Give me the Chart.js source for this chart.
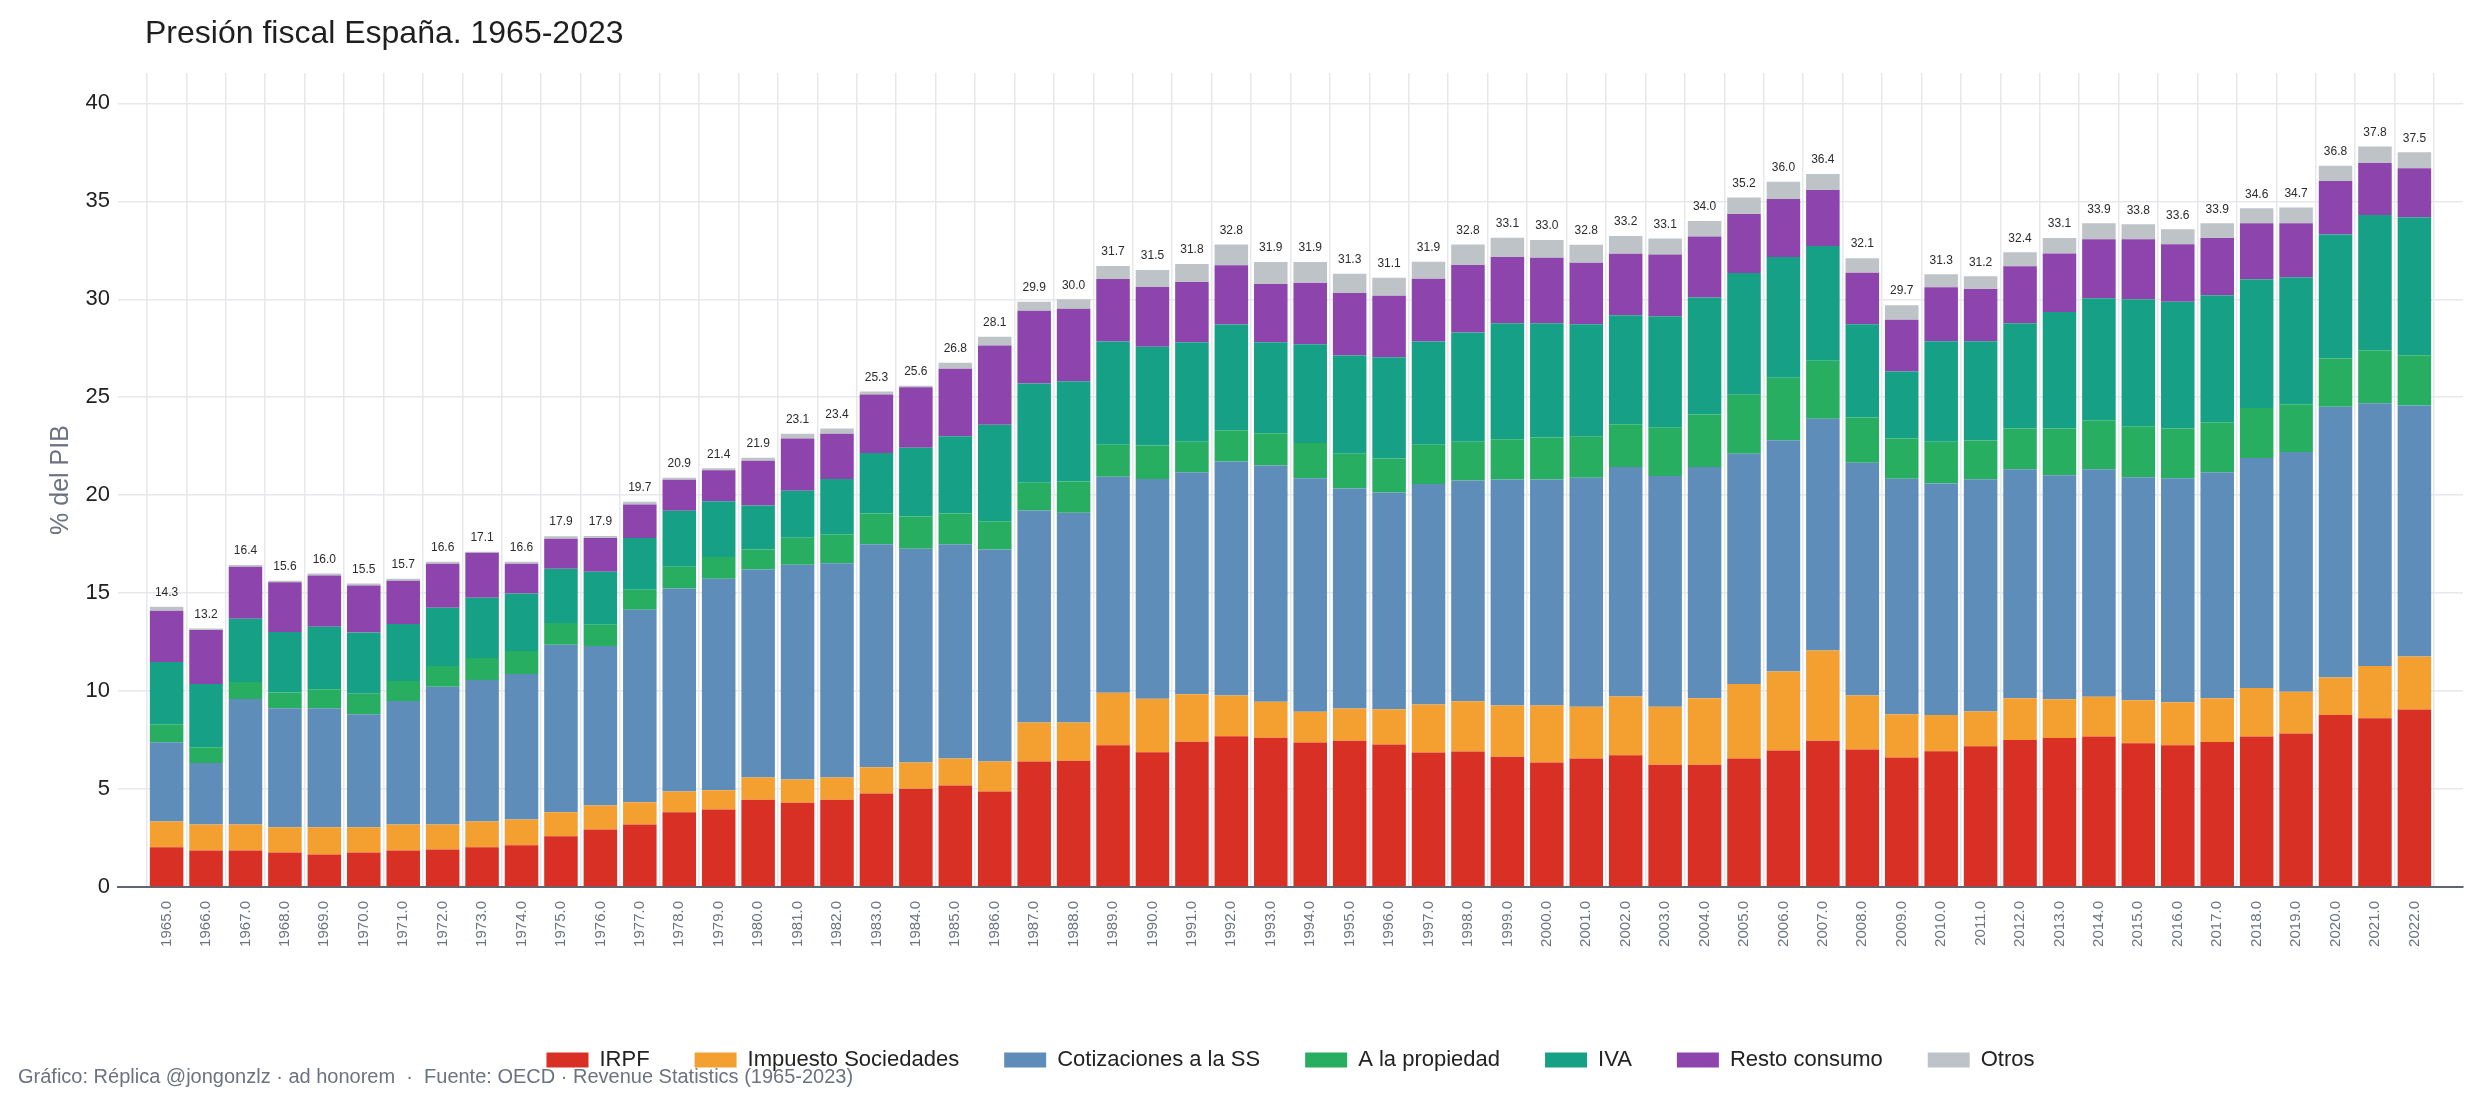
<!DOCTYPE html>
<html lang="es">
<head>
<meta charset="utf-8">
<title>Presión fiscal España</title>
<script src="https://cdn.jsdelivr.net/npm/chart.js@4.4.1/dist/chart.umd.min.js"></script>
<style>
  body { margin: 0; background: #ffffff; }
  canvas { display: block; }
</style>
</head>
<body>
<canvas id="grafico" width="2480" height="1105"></canvas>
<script>
const anios = [
  1965, 1966, 1967, 1968, 1969, 1970, 1971, 1972, 1973, 1974,
  1975, 1976, 1977, 1978, 1979, 1980, 1981, 1982, 1983, 1984,
  1985, 1986, 1987, 1988, 1989, 1990, 1991, 1992, 1993, 1994,
  1995, 1996, 1997, 1998, 1999, 2000, 2001, 2002, 2003, 2004,
  2005, 2006, 2007, 2008, 2009, 2010, 2011, 2012, 2013, 2014,
  2015, 2016, 2017, 2018, 2019, 2020, 2021, 2022
];

// % del PIB
const irpf = [
  2.03, 1.86, 1.86, 1.76, 1.66, 1.76, 1.86, 1.91, 2.03, 2.13,
  2.59, 2.94, 3.19, 3.81, 3.95, 4.45, 4.30, 4.45, 4.77, 5.02,
  5.18, 4.88, 6.41, 6.45, 7.23, 6.88, 7.42, 7.70, 7.62, 7.38,
  7.47, 7.27, 6.86, 6.92, 6.65, 6.36, 6.56, 6.72, 6.24, 6.24,
  6.56, 6.97, 7.47, 7.02, 6.61, 6.93, 7.19, 7.50, 7.60, 7.68,
  7.34, 7.24, 7.40, 7.68, 7.84, 8.78, 8.62, 9.06
];
const sociedades = [
  1.31, 1.33, 1.33, 1.29, 1.39, 1.29, 1.33, 1.28, 1.31, 1.32,
  1.22, 1.22, 1.13, 1.07, 0.99, 1.14, 1.19, 1.14, 1.34, 1.33,
  1.38, 1.53, 1.99, 1.95, 2.69, 2.73, 2.42, 2.07, 1.83, 1.57,
  1.64, 1.80, 2.46, 2.56, 2.62, 2.91, 2.64, 3.01, 2.96, 3.40,
  3.80, 4.03, 4.60, 2.75, 2.21, 1.85, 1.77, 2.14, 1.98, 2.03,
  2.19, 2.19, 2.24, 2.48, 2.13, 1.92, 2.66, 2.71
];
const cotizaciones = [
  4.05, 3.14, 6.40, 6.08, 6.08, 5.77, 6.31, 7.03, 7.22, 7.42,
  8.56, 8.14, 9.83, 10.36, 10.80, 10.62, 10.96, 10.93, 11.39, 10.92,
  10.94, 10.82, 10.82, 10.70, 11.02, 11.21, 11.33, 11.95, 12.07, 11.91,
  11.23, 11.07, 11.25, 11.27, 11.53, 11.53, 11.69, 11.71, 11.78, 11.80,
  11.76, 11.80, 11.83, 11.89, 12.02, 11.82, 11.85, 11.69, 11.44, 11.62,
  11.38, 11.43, 11.53, 11.74, 12.24, 13.81, 13.41, 12.81
];
const propiedad = [
  0.92, 0.80, 0.87, 0.80, 0.97, 1.04, 1.01, 1.06, 1.13, 1.18,
  1.11, 1.08, 1.02, 1.11, 1.10, 1.02, 1.38, 1.49, 1.56, 1.64,
  1.56, 1.44, 1.42, 1.60, 1.64, 1.72, 1.56, 1.60, 1.64, 1.80,
  1.78, 1.73, 2.00, 1.98, 2.05, 2.14, 2.09, 2.18, 2.46, 2.68,
  3.01, 3.19, 2.96, 2.30, 2.05, 2.13, 1.98, 2.08, 2.39, 2.50,
  2.61, 2.55, 2.55, 2.55, 2.43, 2.47, 2.71, 2.56
];
const iva = [
  3.17, 3.23, 3.23, 3.09, 3.19, 3.13, 2.92, 2.97, 3.07, 2.93,
  2.77, 2.71, 2.65, 2.86, 2.85, 2.24, 2.40, 2.81, 3.09, 3.51,
  3.95, 4.92, 5.06, 5.12, 5.27, 5.04, 5.08, 5.39, 4.65, 5.04,
  5.01, 5.17, 5.27, 5.58, 5.92, 5.83, 5.74, 5.56, 5.69, 5.97,
  6.21, 6.17, 5.86, 4.76, 3.42, 5.13, 5.07, 5.37, 5.94, 6.22,
  6.48, 6.46, 6.49, 6.57, 6.48, 6.33, 6.90, 7.05
];
const restoConsumo = [
  2.62, 2.76, 2.66, 2.53, 2.61, 2.40, 2.20, 2.25, 2.30, 1.52,
  1.53, 1.73, 1.70, 1.58, 1.58, 2.29, 2.66, 2.32, 2.99, 3.09,
  3.45, 4.05, 3.71, 3.69, 3.19, 3.05, 3.07, 3.03, 2.97, 3.13,
  3.19, 3.14, 3.21, 3.44, 3.39, 3.35, 3.15, 3.14, 3.15, 3.11,
  3.01, 2.96, 2.86, 2.63, 2.64, 2.75, 2.66, 2.91, 2.99, 3.02,
  3.07, 2.94, 2.92, 2.86, 2.76, 2.73, 2.65, 2.50
];
const otros = [
  0.20, 0.08, 0.08, 0.08, 0.10, 0.10, 0.10, 0.10, 0.05, 0.10,
  0.13, 0.10, 0.15, 0.10, 0.10, 0.15, 0.25, 0.26, 0.15, 0.08,
  0.30, 0.45, 0.47, 0.49, 0.66, 0.87, 0.92, 1.06, 1.12, 1.07,
  0.98, 0.92, 0.86, 1.05, 0.98, 0.91, 0.91, 0.91, 0.82, 0.80,
  0.85, 0.88, 0.82, 0.75, 0.75, 0.67, 0.65, 0.71, 0.79, 0.81,
  0.76, 0.76, 0.75, 0.76, 0.81, 0.78, 0.85, 0.81
];

const series = [
  { nombre: 'IRPF', datos: irpf, color: '#d93025' },
  { nombre: 'Impuesto Sociedades', datos: sociedades, color: '#f4a030' },
  { nombre: 'Cotizaciones a la SS', datos: cotizaciones, color: '#5d8db8' },
  { nombre: 'A la propiedad', datos: propiedad, color: '#27ae60' },
  { nombre: 'IVA', datos: iva, color: '#16a085' },
  { nombre: 'Resto consumo', datos: restoConsumo, color: '#8e44ad' },
  { nombre: 'Otros', datos: otros, color: '#bdc3c7' }
];

const FUENTE = '"Liberation Sans", Arial, Helvetica, sans-serif';
const GRIS_REJILLA = '#e6e8ec';

// total encima de cada barra
const etiquetasTotales = {
  id: 'etiquetasTotales',
  afterDraw(chart) {
    const ctx = chart.ctx;
    const meta = chart.getDatasetMeta(chart.data.datasets.length - 1);
    ctx.save();
    ctx.font = '12px ' + FUENTE;
    ctx.fillStyle = '#2b2b2b';
    ctx.textAlign = 'center';
    ctx.textBaseline = 'bottom';
    meta.data.forEach((barra, i) => {
      const total = chart.data.datasets.reduce((s, d) => s + d.data[i], 0);
      ctx.fillText(total.toFixed(1), barra.x, barra.y - 8);
    });
    ctx.restore();
  }
};

// título arriba a la izquierda y créditos abajo
const textosFijos = {
  id: 'textosFijos',
  afterDraw(chart) {
    const ctx = chart.ctx;
    ctx.save();
    ctx.textAlign = 'left';
    ctx.textBaseline = 'alphabetic';
    ctx.fillStyle = '#1f1f1f';
    ctx.font = '32px ' + FUENTE;
    ctx.fillText('Presión fiscal España. 1965-2023', 145, 43);
    ctx.fillStyle = '#6b7280';
    ctx.font = '20px ' + FUENTE;
    ctx.textBaseline = 'middle';
    ctx.fillText('Gráfico: Réplica @jongonzlz · ad honorem  ·  Fuente: OECD · Revenue Statistics (1965-2023)', 18, 1077);
    ctx.restore();
  }
};

const ctx = document.getElementById('grafico').getContext('2d');
new Chart(ctx, {
  type: 'bar',
  data: {
    labels: anios,
    datasets: series.map(s => ({
      label: s.nombre,
      data: s.datos,
      backgroundColor: s.color,
      borderWidth: 0,
      stack: 'total',
      categoryPercentage: 1,
      barPercentage: 0.85
    }))
  },
  options: {
    responsive: false,
    animation: false,
    devicePixelRatio: 1,
    layout: {
      padding: { top: 73, right: 17, bottom: 24, left: 0 }
    },
    plugins: {
      title: { display: false },
      tooltip: { enabled: false },
      legend: {
        position: 'bottom',
        fullSize: false,
        labels: {
          font: { family: FUENTE, size: 22 },
          color: '#222222',
          boxWidth: 42,
          boxHeight: 15,
          padding: 45
        }
      }
    },
    scales: {
      x: {
        type: 'linear',
        min: 1964.28,
        max: 2022.72,
        z: 1,
        afterBuildTicks: scale => {
          scale.ticks = anios.map(a => ({ value: a }));
        },
        afterFit: scale => {
          // leyenda: 22 + 45 + 10 = 77 px; eje en y = 887
          scale.height = 1105 - 24 - 77 - 887;
        },
        ticks: {
          autoSkip: false,
          maxRotation: 90,
          minRotation: 90,
          padding: 14,
          color: '#6b7280',
          font: { family: FUENTE, size: 15 },
          callback: v => Number(v).toFixed(1)
        },
        grid: {
          color: GRIS_REJILLA,
          lineWidth: 1.5,
          drawTicks: false
        },
        border: { display: true, color: '#5f6673', width: 2 }
      },
      y: {
        stacked: true,
        min: 0,
        max: 41.55,
        z: 1,
        afterBuildTicks: scale => {
          scale.ticks = scale.ticks.filter(t => Math.abs(t.value % 5) < 1e-6);
        },
        afterFit: scale => {
          scale.width = 118;
        },
        ticks: {
          stepSize: 5,
          padding: 8,
          color: '#222222',
          font: { family: FUENTE, size: 22 }
        },
        grid: {
          color: GRIS_REJILLA,
          lineWidth: 1.5,
          drawTicks: false
        },
        border: { display: false },
        title: {
          display: true,
          text: '% del PIB',
          color: '#6b7280',
          font: { family: FUENTE, size: 25 },
          padding: { top: 46, bottom: 0 }
        }
      }
    }
  },
  plugins: [etiquetasTotales, textosFijos]
});
</script>
</body>
</html>
